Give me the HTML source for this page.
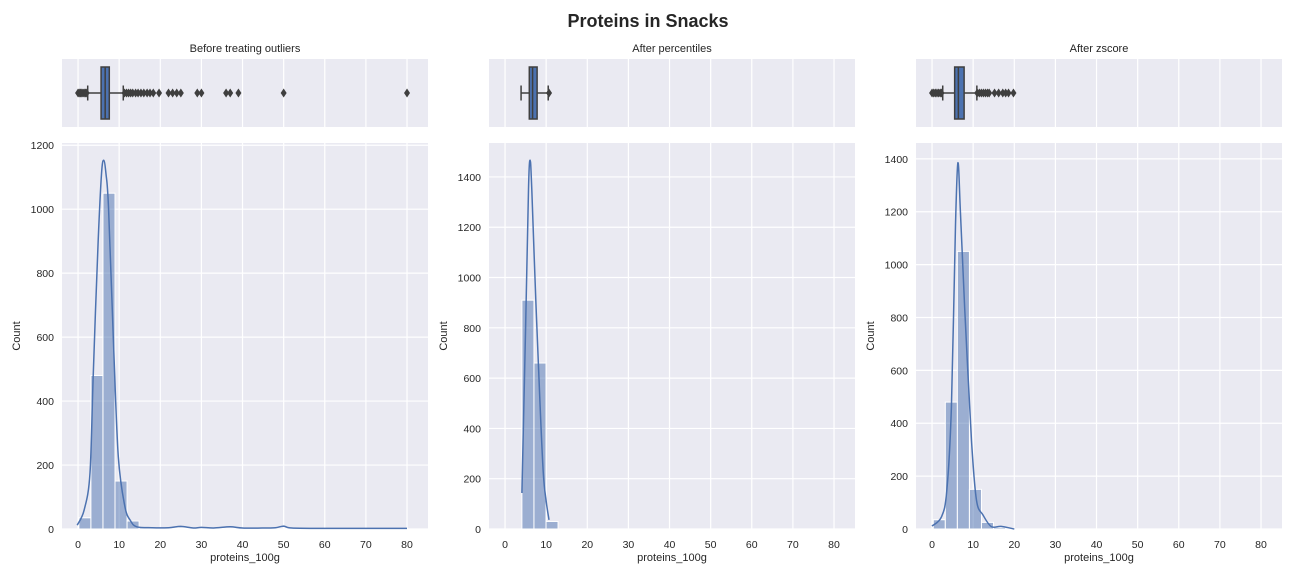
<!DOCTYPE html>
<html><head><meta charset="utf-8">
<style>
body{margin:0;background:#fff;width:1296px;height:576px;overflow:hidden;font-family:"Liberation Sans",sans-serif;}
svg text{font-family:"Liberation Sans",sans-serif;fill:#262626;}
</style></head>
<body>
<svg id="chart" width="1296" height="576" xmlns="http://www.w3.org/2000/svg">
<text x="648" y="27" text-anchor="middle" font-size="18" font-weight="bold">Proteins in Snacks</text>
</svg>
<script>
const xTicks=[0,10,20,30,40,50,60,70,80];
const panelTitles=["Before treating outliers","After percentiles","After zscore"];
const binWidth=2.93;
const binStart1=[0.2,4.1,0.3];
const counts1=[35,480,1050,150,25,5,2,1,3,2,1,2,1,0,1,0,0,1,0,0,0,0,0,0,0,0,1];
const counts2=[910,660,30];
const counts3=[35,480,1050,150,25,6];
const yTicks1=[0,200,400,600,800,1000,1200];
const yTicks2=[0,200,400,600,800,1000,1200,1400];
const yTicks3=[0,200,400,600,800,1000,1200,1400];
const yMax=[1207,1535,1460];
const kdeX1=[-0.2,1.5,2.9,3.7,4.9,5.7,6.25,6.8,7.4,8.6,9.8,11.4,12.8,14.3,18,22,25,28,30,33,37,40,45,48,50,52,60,70,80];
const kdeY1=[12,60,175,487,903,1110,1153,1110,1007,590,226,70,25,7,4,4,8,3,5,3,7,3,3,4,9,3,2,2,2];
const kdeX2=[4.1,5.0,5.7,6.1,6.5,7.5,8.5,9.3,10.0,10.7];
const kdeY2=[143,800,1350,1467,1350,900,500,222,110,36];
const kdeX3=[0,2.3,3.6,4.7,5.7,6.3,6.9,7.95,9.6,10.8,12.4,14.4,16.8,20];
const kdeY3=[11,46,146,459,1150,1385,1200,834,334,109,53,9,10,0];
// boxplots: [whiskerLo, q1, median, q3, whiskerHi]
const box1=[2.35,5.6,6.6,7.6,11];
const box2=[3.9,5.9,6.7,7.8,10.5];
const box3=[2.6,5.5,6.4,7.8,10.9];
const outliers1=[0,0.3,0.6,0.9,1.2,1.5,1.8,2.1,11.3,11.8,12.3,12.8,13.3,14,14.6,15.3,16,16.8,17.5,18.3,19.7,22,23,24,25,29,30,36,37,39,50,80];
const outliers2=[10.7];
const outliers3=[0,0.4,0.8,1.2,1.6,2,2.3,11,11.5,12,12.5,13,13.5,13.9,15.2,16.2,17.2,17.9,18.6,19.8];

const svg=document.getElementById('chart');
const NS='http://www.w3.org/2000/svg';
function mk(tag,attrs,parent){const e=document.createElementNS(NS,tag);for(const k in attrs)e.setAttribute(k,attrs[k]);(parent||svg).appendChild(e);return e;}
function smooth(pts){
 let d='M'+pts[0][0].toFixed(1)+','+pts[0][1].toFixed(1);
 for(let i=0;i<pts.length-1;i++){
  const p0=pts[Math.max(0,i-1)],p1=pts[i],p2=pts[i+1],p3=pts[Math.min(pts.length-1,i+2)];
  const c1=[p1[0]+(p2[0]-p0[0])/6,p1[1]+(p2[1]-p0[1])/6];
  const c2=[p2[0]-(p3[0]-p1[0])/6,p2[1]-(p3[1]-p1[1])/6];
  d+=` C${c1[0].toFixed(1)},${c1[1].toFixed(1)} ${c2[0].toFixed(1)},${c2[1].toFixed(1)} ${p2[0].toFixed(1)},${p2[1].toFixed(1)}`;
 }
 return d;
}
const panels=[{l:62,bins:counts1,bs:binStart1[0],yt:yTicks1,ym:yMax[0],kx:kdeX1,ky:kdeY1,box:box1,out:outliers1},
{l:489,bins:counts2,bs:binStart1[1],yt:yTicks2,ym:yMax[1],kx:kdeX2,ky:kdeY2,box:box2,out:outliers2},
{l:916,bins:counts3,bs:binStart1[2],yt:yTicks3,ym:yMax[2],kx:kdeX3,ky:kdeY3,box:box3,out:outliers3}];
const W=366,xMin=-3.9,xMax=85.1;
const hT=143,hB=529,bT=59,bB=127;
panels.forEach((p,i)=>{
 const g=mk('g',{});
 
 
 const X=v=>p.l+(v-xMin)/(xMax-xMin)*W;
 const Y=v=>hB-v/p.ym*(hB-hT);
 const bg1=mk('rect',{x:p.l,y:bT,width:W,height:bB-bT,fill:'#eaeaf2'},g);
 
 const bg2=mk('rect',{x:p.l,y:hT,width:W,height:hB-hT,fill:'#eaeaf2'},g);
 
 xTicks.forEach(t=>{
  mk('line',{x1:X(t),x2:X(t),y1:bT,y2:bB,stroke:'#fff','stroke-width':1.2},g);
  mk('line',{x1:X(t),x2:X(t),y1:hT,y2:hB,stroke:'#fff','stroke-width':1.2},g);
  const tl=mk('text',{x:X(t),y:hB+19,'text-anchor':'middle','font-size':10.5},g);tl.textContent=t;
  
 });
 p.yt.forEach(t=>{
  mk('line',{x1:p.l,x2:p.l+W,y1:Y(t),y2:Y(t),stroke:'#fff','stroke-width':1.2},g);
  const tl=mk('text',{x:p.l-8,y:Y(t)+4,'text-anchor':'end','font-size':10.5},g);tl.textContent=t;
  
 });
 const tt=mk('text',{x:p.l+W/2,y:52,'text-anchor':'middle','font-size':11},g);tt.textContent=panelTitles[i];
 
 const xl=mk('text',{x:p.l+W/2,y:hB+32,'text-anchor':'middle','font-size':11},g);xl.textContent='proteins_100g';
 
 const yl=mk('text',{x:0,y:0,'text-anchor':'middle','font-size':11,transform:`translate(${p.l-42},${(hT+hB)/2}) rotate(-90)`},g);yl.textContent='Count';
 
 p.bins.forEach((c,j)=>{
  if(c<=0)return;
  const x0=X(p.bs+j*binWidth),x1=X(p.bs+(j+1)*binWidth);
  const r=mk('rect',{x:x0,y:Y(c),width:x1-x0,height:hB-Y(c),fill:'rgba(76,114,176,0.5)',stroke:'#fff','stroke-width':1},g);
  
 });
 const pts=p.kx.map((v,j)=>[X(v),Y(p.ky[j])]);
 const kl=mk('path',{d:smooth(pts),fill:'none',stroke:'#4c72b0','stroke-width':1.5,'stroke-linejoin':'round'},g);
 
 const cy=(bT+bB)/2,bh=26;
 const b=p.box;
 mk('line',{x1:X(b[0]),x2:X(b[1]),y1:cy,y2:cy,stroke:'#3f3f3f','stroke-width':1.5},g);
 mk('line',{x1:X(b[3]),x2:X(b[4]),y1:cy,y2:cy,stroke:'#3f3f3f','stroke-width':1.5},g);
 mk('line',{x1:X(b[0]),x2:X(b[0]),y1:cy-bh/4-1,y2:cy+bh/4+1,stroke:'#3f3f3f','stroke-width':1.5},g);
 mk('line',{x1:X(b[4]),x2:X(b[4]),y1:cy-bh/4-1,y2:cy+bh/4+1,stroke:'#3f3f3f','stroke-width':1.5},g);
 const bx=mk('rect',{x:X(b[1]),y:cy-bh,width:X(b[3])-X(b[1]),height:bh*2,fill:'#4c72b0',stroke:'#3f3f3f','stroke-width':1.5},g);
 
 mk('line',{x1:X(b[2]),x2:X(b[2]),y1:cy-bh,y2:cy+bh,stroke:'#3f3f3f','stroke-width':1.5},g);
 p.out.forEach(v=>{
  const o=mk('path',{d:`M${X(v)},${cy-4.5} L${X(v)+3},${cy} L${X(v)},${cy+4.5} L${X(v)-3},${cy} Z`,fill:'#3f3f3f'},g);
  
 });
});
</script>
</body></html>
